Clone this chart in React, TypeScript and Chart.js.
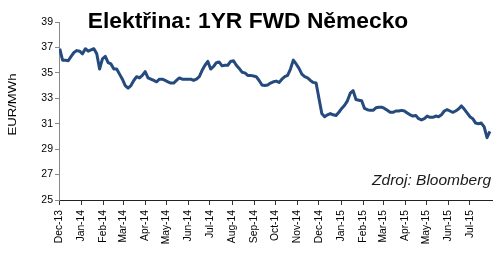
import React, { useEffect, useRef } from "react";
import { Chart, registerables } from "chart.js";

Chart.register(...registerables);

const TITLE = "Elektřina: 1YR FWD Německo";
const Y_TITLE = "EUR/MWh";
const SOURCE = "Zdroj: Bloomberg";

// month tick labels (axis runs from 1 Dec 2013 to 1 Aug 2015)
const monthLabels = [
  "Dec-13", "Jan-14", "Feb-14", "Mar-14", "Apr-14", "May-14", "Jun-14", "Jul-14",
  "Aug-14", "Sep-14", "Oct-14", "Nov-14", "Dec-14", "Jan-15", "Feb-15", "Mar-15",
  "Apr-15", "May-15", "Jun-15", "Jul-15",
];
const yTicks = [25, 27, 29, 31, 33, 35, 37, 39];

// price samples every 4 days starting 2 Dec 2013 (EUR/MWh)
const firstSampleDay = 1; // days after 1 Dec 2013
const sampleStepDays = 4;
const prices = [
  36.9, 36.0, 36.0, 35.95, 36.3, 36.6, 36.75, 36.7, 36.5, 36.9,
  36.7, 36.8, 36.9, 36.5, 35.3, 36.1, 36.3, 35.8, 35.7, 35.3,
  35.3, 34.9, 34.5, 34.0, 33.8, 34.0, 34.4, 34.7, 34.6, 34.8,
  35.1, 34.6, 34.5, 34.4, 34.3, 34.5, 34.5, 34.4, 34.3, 34.2,
  34.2, 34.4, 34.6, 34.5, 34.5, 34.5, 34.5, 34.4, 34.5, 34.7,
  35.2, 35.6, 35.9, 35.3, 35.5, 35.8, 35.85, 35.55, 35.6, 35.6,
  35.9, 35.95, 35.6, 35.35, 35.05, 35.0, 34.8, 34.8, 34.75, 34.7,
  34.4, 34.05, 34.0, 34.05, 34.2, 34.3, 34.35, 34.25, 34.5, 34.7,
  34.8, 35.3, 36.0, 35.7, 35.35, 34.9, 34.7, 34.6, 34.4, 34.25,
  34.2, 33.0, 31.8, 31.55, 31.7, 31.8, 31.7, 31.65, 31.9, 32.2,
  32.45, 32.8, 33.4, 33.6, 32.9, 32.85, 32.8, 32.2, 32.1, 32.05,
  32.05, 32.25, 32.3, 32.3, 32.2, 32.05, 31.9, 31.9, 32.0, 32.0,
  32.05, 32.0, 31.85, 31.7, 31.6, 31.65, 31.4, 31.3, 31.4, 31.6,
  31.5, 31.5, 31.6, 31.55, 31.7, 32.0, 32.1, 32.0, 31.9, 32.0,
  32.15, 32.4, 32.15, 31.85, 31.55, 31.4, 31.05, 31.0, 31.05, 30.75,
  29.9, 30.4,
];

const DAY = 86400000;
const origin = Date.UTC(2013, 11, 1);
const monthDays = monthLabels.map((_, k) => (Date.UTC(2013, 11 + k, 1) - origin) / DAY);
const axisEndDay = (Date.UTC(2015, 7, 1) - origin) / DAY;

const FONT = "'Liberation Sans', Arial, sans-serif";

const overlayPlugin = {
  id: "overlay",
  afterDraw(chart: any) {
    const ctx = chart.ctx;
    const area = chart.chartArea;
    ctx.save();
    // title
    ctx.fillStyle = "#000";
    ctx.font = `bold 22.8px ${FONT}`;
    ctx.textAlign = "center";
    ctx.textBaseline = "alphabetic";
    ctx.fillText(TITLE, 248, 27.5);
    // source
    ctx.font = `italic 15.5px ${FONT}`;
    ctx.textAlign = "right";
    ctx.fillStyle = "#1a1a1a";
    ctx.fillText(SOURCE, area.right - 1, 185);
    // y title, rotated and stretched
    ctx.font = `10px ${FONT}`;
    const w = ctx.measureText(Y_TITLE).width;
    ctx.translate(16, 104.5);
    ctx.rotate(-Math.PI / 2);
    ctx.scale(62 / w, 1);
    ctx.textAlign = "center";
    ctx.textBaseline = "alphabetic";
    ctx.fillStyle = "#000";
    ctx.fillText(Y_TITLE, 0, 0);
    ctx.restore();
  },
};

export default function App() {
  const ref = useRef<HTMLCanvasElement | null>(null);
  useEffect(() => {
    if (!ref.current) return;
    const points = prices.map((v, i) => ({ x: firstSampleDay + i * sampleStepDays, y: v }));
    const chart = new Chart(ref.current, {
      type: "line",
      data: {
        datasets: [
          {
            data: points,
            borderColor: "#254a7d",
            borderWidth: 3,
            pointRadius: 0,
            tension: 0,
            fill: false,
            borderJoinStyle: "round",
          },
        ],
      },
      options: {
        responsive: false,
        animation: false,
        devicePixelRatio: 1,
        layout: { padding: { top: 22, right: 9, left: 0, bottom: 0 } },
        plugins: { legend: { display: false }, tooltip: { enabled: false }, title: { display: false } },
        scales: {
          x: {
            type: "linear",
            min: 0,
            max: axisEndDay,
            afterBuildTicks: (scale: any) => {
              scale.ticks = monthDays.map((v) => ({ value: v }));
            },
            afterFit: (scale: any) => {
              scale.height = 59;
            },
            ticks: {
              autoSkip: false,
              maxRotation: 90,
              minRotation: 90,
              padding: 5,
              color: "#000",
              font: { family: FONT, size: 10.3 },
              callback: (value: any, index: number) => monthLabels[index],
            },
            grid: { display: true, drawOnChartArea: false, drawTicks: true, tickLength: 5, color: "#333" },
            border: { display: true, color: "#222", width: 1 },
          },
          y: {
            type: "linear",
            min: 25,
            max: 39,
            afterBuildTicks: (scale: any) => {
              scale.ticks = yTicks.map((v) => ({ value: v }));
            },
            afterFit: (scale: any) => {
              scale.width = 59;
            },
            ticks: {
              padding: 2,
              color: "#000",
              font: { family: FONT, size: 10.5 },
              callback: (value: any) => String(value),
            },
            grid: { display: true, drawOnChartArea: false, drawTicks: true, tickLength: 4, color: "#888" },
            border: { display: true, color: "#888", width: 1 },
          },
        },
      },
      plugins: [overlayPlugin],
    });
    return () => chart.destroy();
  }, []);
  return (
    <div style={{ position: "fixed", left: 0, top: 0, width: 501, height: 259, background: "#fff" }}>
      <canvas ref={ref} width={501} height={259} style={{ width: 501, height: 259, display: "block" }} />
    </div>
  );
}
